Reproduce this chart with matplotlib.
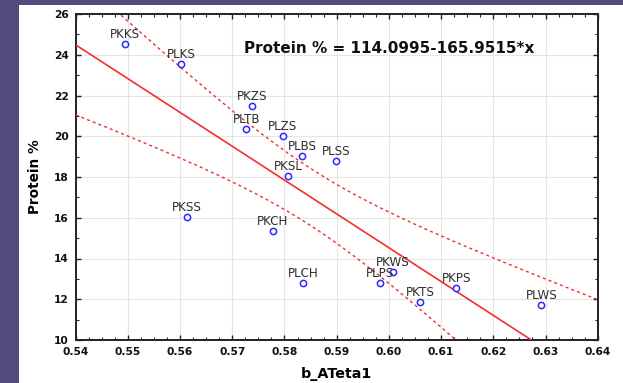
import numpy as np
import matplotlib
matplotlib.use("Agg")
import matplotlib.pyplot as plt
from matplotlib.patches import Rectangle

# Samples: b_ATeta1 vs protein content
names = ["PKKS", "PLKS", "PKZS", "PLTB", "PLZS", "PLBS", "PKSL", "PLSS",
         "PKSS", "PKCH", "PLCH", "PLPS", "PKWS", "PKTS", "PKPS", "PLWS"]
b_ateta1 = [0.5494, 0.5602, 0.5738, 0.5727, 0.5797, 0.5834, 0.5807, 0.5899,
            0.5613, 0.5778, 0.5835, 0.5983, 0.6008, 0.6060, 0.6129, 0.6292]
protein = [24.51, 23.53, 21.49, 20.36, 20.03, 19.05, 18.06, 18.80,
           16.02, 15.37, 12.81, 12.78, 13.32, 11.85, 12.57, 11.70]

# Fitted regression line
intercept = 114.0995
slope = -165.9515
t_crit = 2.1448  # Student t, 95 %, df = n - 2 = 14

x_ticks = [0.54, 0.55, 0.56, 0.57, 0.58, 0.59, 0.60, 0.61, 0.62, 0.63, 0.64]
x_ticklabels = ["0.54", "0.55", "0.56", "0.57", "0.58", "0.59", "0.60",
                "0.61", "0.62", "0.63", "0.64"]
y_ticks = [10, 12, 14, 16, 18, 20, 22, 24, 26]

x = np.array(b_ateta1)
y = np.array(protein)
n = len(x)
resid = y - (intercept + slope * x)
s = np.sqrt(np.sum(resid ** 2) / (n - 2))
sxx = np.sum((x - x.mean()) ** 2)

xs = np.linspace(0.54, 0.64, 400)
fit = intercept + slope * xs
half = t_crit * s * np.sqrt(1.0 / n + (xs - x.mean()) ** 2 / sxx)

fig = plt.figure(figsize=(6.23, 3.83), dpi=100)
fig.patch.set_facecolor("#514c7c")
fig.patches.append(Rectangle((19 / 623, 0), 1 - 19 / 623, 378 / 383,
                             transform=fig.transFigure, facecolor="white",
                             edgecolor="none", zorder=-10))

ax = fig.add_axes([75.7 / 623, 43 / 383, 522 / 623, 326 / 383])
ax.set_facecolor("white")

ax.plot(xs, fit, color="#f03030", lw=1.2, zorder=3)
ax.plot(xs, fit + half, color="#f03030", lw=1.0, ls=(0, (2.2, 2.2)), zorder=3)
ax.plot(xs, fit - half, color="#f03030", lw=1.0, ls=(0, (2.2, 2.2)), zorder=3)

ax.plot(x, y, ls="none", marker="o", ms=4.5, mfc="white", mec="#2a2aff",
        mew=1.1, zorder=4)
for nm, xi, yi in zip(names, b_ateta1, protein):
    ax.annotate(nm, (xi, yi), xytext=(0, 4.3), textcoords="offset points",
                ha="center", va="baseline", fontsize=8.6, color="#2e2e2e",
                family="DejaVu Sans", zorder=5)

eq = f"Protein % = {intercept:.4f}{slope:.4f}*x"
ax.text(0.600, 24.33, eq, ha="center", va="center", fontsize=11,
        fontweight="bold", family="DejaVu Sans", color="#111111", zorder=5)

ax.set_xlim(0.54, 0.64)
ax.set_ylim(10, 26)
ax.set_xticks(x_ticks)
ax.set_xticklabels(x_ticklabels)
ax.set_yticks(y_ticks)
ax.set_xticks(np.arange(0.54, 0.6401, 0.0025), minor=True)
ax.set_yticks(np.arange(10, 26.01, 1), minor=True)

ax.tick_params(which="both", direction="in", top=True, right=True,
               color="#222222")
ax.tick_params(which="major", length=3.5, width=1.0, labelsize=7.7, pad=5)
ax.tick_params(which="minor", length=2.2, width=0.8)
for lab in ax.get_xticklabels() + ax.get_yticklabels():
    lab.set_fontweight("bold")
    lab.set_family("DejaVu Sans")
    lab.set_color("#111111")

ax.grid(True, which="major", color="#e4e4e4", lw=0.8, zorder=0)
ax.set_axisbelow(True)
for sp in ax.spines.values():
    sp.set_linewidth(1.4)
    sp.set_color("#222222")

ax.set_xlabel("b_ATeta1", fontsize=10.3, fontweight="bold",
              family="DejaVu Sans", labelpad=7)
ax.set_ylabel("Protein %", fontsize=9.8, fontweight="bold",
              family="DejaVu Sans")
ax.yaxis.set_label_coords(-0.065, 0.5)

fig.savefig("out.png", dpi=100, facecolor=fig.get_facecolor())
